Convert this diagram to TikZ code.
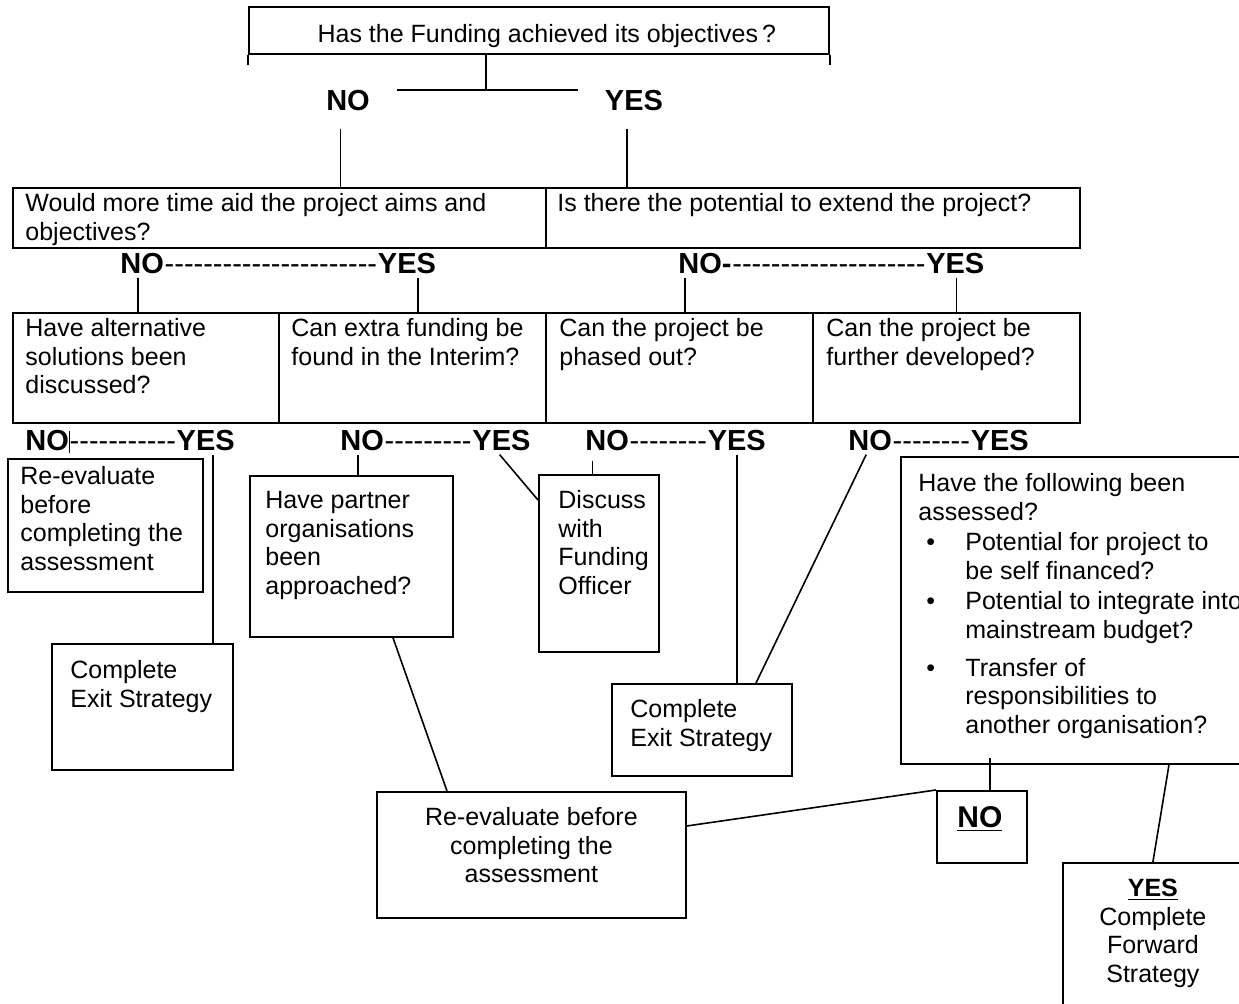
\documentclass[tikz,border=0pt]{standalone}
\usepackage{fontspec}
\setmainfont{Liberation Sans}
\newfontfamily\plainfam{Liberation Sans}[Ligatures=TeXOff]
\usetikzlibrary{positioning, calc}
\newcommand{\qfont}{\fontsize{12.5}{14.3}\selectfont}
\newcommand{\ynfont}{\fontsize{14.5}{16}\selectfont\bfseries}
\newcommand{\dshfont}{\fontsize{14.5}{16}\selectfont\plainfam}
\tikzset{
	cell/.style={draw, line width=0.9pt, anchor=north west, inner sep=0pt},
	sz/.style 2 args={minimum width=#1*0.5pt, minimum height=#2*0.5pt},
	txt/.style={anchor=north west, align=left, inner sep=0pt, font=\qfont},
	ctxt/.style={anchor=north, align=center, inner sep=0pt, font=\qfont},
	yn/.style={inner xsep=0pt, inner ysep=1.5pt, font=\ynfont},
	dsh/.style={inner xsep=0pt, inner ysep=1.5pt, font=\dshfont},
	link/.style={line width=0.8pt}
}

\begin{document}
\begin{tikzpicture}[x=0.5pt, y=-0.5pt]
	\useasboundingbox (0,0) rectangle (1239,1004);
	\clip (0,0) rectangle (1239,1004);

	% Top question
	\node[cell, sz={580}{47}] (top) at (248,6) {};
	\node[ctxt] (topq) at ($(top.north)+(8,16)$) {\strut Has the Funding achieved its objectives\,?};
	\draw[link] (top.south west) -- ++(0,10);
	\draw[link] (top.south east) -- ++(0,10);
	\coordinate (split) at (486,90);
	\coordinate (splitl) at (397,90);
	\coordinate (splitr) at (578,90);
	\draw[link] (top.south -| split) -- (split);
	\draw[link] (splitl) -- (splitr);
	\node[yn] (no1) at (348,101) {NO};
	\node[yn] (yes1) at (634,101) {YES};

	% Second row
	\node[cell, sz={533}{60}] (time) at (12,187) {};
	\node[cell, sz={534}{60}] (extend) at (545,187) {};
	\node[txt] (timet) at ($(time.north west)+(13,4)$) {\strut Would more time aid the project aims and\\objectives?};
	\node[txt] (extendt) at ($(extend.north west)+(12,4)$) {\strut Is there the potential to extend the project?};
	\coordinate (n1) at ($(no1.south west)!.33!(no1.south east)$);
	\coordinate (y1) at ($(yes1.south west)!.38!(yes1.south east)$);
	\draw[link, shorten <=7pt] (n1) -- (n1 |- time.north);
	\draw[link, shorten <=7pt] (y1) -- (y1 |- extend.north);

	% Answers to the second row
	\node[yn, anchor=base west] (no2l) at (120,274) {NO};
	\node[dsh, base right=0pt of no2l] (d2l) {----------------------};
	\node[yn, base right=0pt of d2l] (yes2l) {YES};
	\node[yn, anchor=base west] (no2r) at (678,274) {NO-};
	\node[dsh, base right=0pt of no2r] (d2r) {--------------------};
	\node[yn, base right=0pt of d2r] (yes2r) {YES};

	% Third row
	\node[cell, sz={266}{110}] (alt) at (12,312) {};
	\node[cell, sz={267}{110}] (xtra) at (278,312) {};
	\node[cell, sz={267}{110}] (phase) at (545,312) {};
	\node[cell, sz={267}{110}] (devel) at (812,312) {};
	\node[txt] (altt) at ($(alt.north west)+(13,4)$) {\strut Have alternative\\solutions been\\discussed?};
	\node[txt] (xtrat) at ($(xtra.north west)+(13,4)$) {\strut Can extra funding be\\found in the Interim?};
	\node[txt] (phaset) at ($(phase.north west)+(14,4)$) {\strut Can the project be\\phased out?};
	\node[txt] (develt) at ($(devel.north west)+(14,4)$) {\strut Can the project be\\further developed?};
	\coordinate (n2l) at ($(no2l.south west)!.4!(no2l.south east)$);
	\coordinate (y2l) at ($(yes2l.south west)!.69!(yes2l.south east)$);
	\coordinate (n2r) at ($(no2r.south west)!.13!(no2r.south east)$);
	\coordinate (y2r) at ($(yes2r.south west)!.52!(yes2r.south east)$);
	\draw[link] (n2l) -- (n2l |- alt.north);
	\draw[link] (y2l) -- (y2l |- xtra.north);
	\draw[link] (n2r) -- (n2r |- phase.north);
	\draw[link] (y2r) -- (y2r |- devel.north);

	% Answers to the third row
	\node[yn, anchor=base west] (noA) at (25,451) {NO};
	\node[dsh, base right=0pt of noA] (dA) {-----------};
	\node[yn, base right=0pt of dA] (yesA) {YES};
	\node[yn, anchor=base west] (noB) at (340,451) {NO};
	\node[dsh, base right=0pt of noB] (dB) {---------};
	\node[yn, base right=0pt of dB] (yesB) {YES};
	\node[yn, anchor=base west] (noC) at (585,451) {NO};
	\node[dsh, base right=0pt of noC] (dC) {--------};
	\node[yn, base right=0pt of dC] (yesC) {YES};
	\node[yn, anchor=base west] (noD) at (848,451) {NO};
	\node[dsh, base right=0pt of noD] (dD) {--------};
	\node[yn, base right=0pt of dD] (yesD) {YES};

	% Outcome boxes
	\node[cell, sz={195}{133}] (reeval) at (7,458) {};
	\node[txt] (reevalt) at ($(reeval.north west)+(13,6)$) {\strut Re-evaluate\\before\\completing the\\assessment};
	\node[cell, sz={181}{126}] (exitl) at (51,643) {};
	\node[txt] (exitlt) at ($(exitl.north west)+(19,15)$) {\strut Complete\\Exit Strategy};
	\node[cell, sz={203}{161}] (partner) at (249,475) {};
	\node[txt] (partnert) at ($(partner.north west)+(16,13)$) {\strut Have partner\\organisations\\been\\approached?};
	\node[cell, sz={120}{177}] (discuss) at (538,474) {};
	\node[txt] (discusst) at ($(discuss.north west)+(20,14)$) {\strut Discuss\\with\\Funding\\Officer};
	\node[cell, sz={180}{92}] (exitm) at (611,683) {};
	\node[txt] (exitmt) at ($(exitm.north west)+(19,14)$) {\strut Complete\\Exit Strategy};
	\node[cell, sz={350}{307}] (assess) at (900,456) {};
	\node[txt] (assesst) at ($(assess.north west)+(18,15)$) {\strut Have the following been\\assessed?\\[1pt]
		\makebox[23.5pt][l]{\hspace{4pt}\textbullet}Potential for project to\\\hspace*{23.5pt}be self financed?\\[1pt]
		\makebox[23.5pt][l]{\hspace{4pt}\textbullet}Potential to integrate into\\\hspace*{23.5pt}mainstream budget?\\[4.5pt]
		\makebox[23.5pt][l]{\hspace{4pt}\textbullet}Transfer of\\\hspace*{23.5pt}responsibilities to\\\hspace*{23.5pt}another organisation?};
	\node[cell, sz={90}{72}] (nobox) at (936,790) {};
	\node[yn, font=\fontsize{15}{17}\selectfont\bfseries] (noboxt) at ($(nobox.north)+(-2,29)$) {\underline{NO}};
	\node[cell, sz={309}{126}] (reeval2) at (376,791) {};
	\node[ctxt] (reeval2t) at ($(reeval2.north)+(0,14)$) {\strut Re-evaluate before\\completing the\\assessment};
	\node[cell, sz={180}{160}] (forward) at (1062,862) {};
	\node[ctxt] (forwardt) at ($(forward.north)+(0,14)$) {\strut\textbf{\underline{YES}}\\Complete\\Forward\\Strategy};

	% Links to the outcomes
	\draw[link, shorten <=2pt, shorten >=1pt] (noA.north east) -- (noA.south east);
	\coordinate (yA) at ($(yesA.south west)!.62!(yesA.south east)$);
	\coordinate (nB) at ($(noB.south west)!.41!(noB.south east)$);
	\coordinate (yB) at ($(yesB.south west)!.47!(yesB.south east)$);
	\coordinate (nC) at ($(noC.south west)!.17!(noC.south east)$);
	\coordinate (yC) at ($(yesC.south west)!.5!(yesC.south east)$);
	\coordinate (nD) at ($(noD.south west)!.41!(noD.south east)$);
	\draw[link] (yA) -- (yA |- exitl.north);
	\draw[link] (nB) -- (nB |- partner.north);
	\draw[link] (yB) -- ($(discuss.north west)+(0,26)$);
	\draw[link, shorten <=3pt] (nC) -- (nC |- discuss.north);
	\draw[link] (yC) -- (yC |- exitm.north);
	\draw[link] (nD) -- ($(exitm.north west)+(145,0)$);
	\draw[link] ($(partner.south west)+(144,0)$) -- ($(reeval2.north west)+(71,0)$);
	\draw[link] ($(reeval2.north east)+(0,35)$) -- (nobox.north west);
	\coordinate (nE) at ($(nobox.north west)+(54,0)$);
	\draw[link] (nE) -- ($(nE |- assess.south)+(0,-7)$);
	\draw[link] (forward.north) -- ($(assess.south west)+(269,0)$);
\end{tikzpicture}
\end{document}
